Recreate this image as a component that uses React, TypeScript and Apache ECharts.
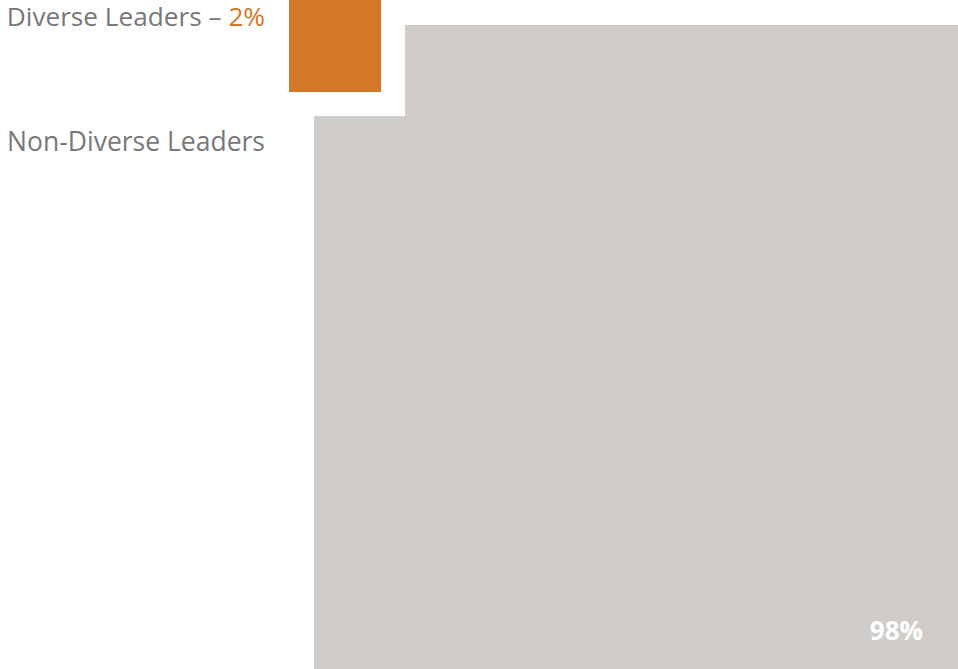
import React, { useEffect, useRef } from "react";
import * as echarts from "echarts";

const categories = ["Diverse Leaders", "Non-Diverse Leaders"];
const values = [2, 98];
const valueLabels = ["2%", "98%"];

const ORANGE = "#D27827";
const GRAY = "#D0CCC9";
const TEXT = "#787878";
const FONT = "'Open Sans', 'Noto Sans', sans-serif";

export default function App() {
  const ref = useRef<HTMLDivElement>(null);
  useEffect(() => {
    if (!ref.current) return;
    const chart = echarts.init(ref.current, null, { renderer: "svg" });
    const total = values[0] + values[1];
    const fullSide = Math.sqrt(total);
    const notch = Math.sqrt(values[0]);
    const option: any = {
      animation: false,
      grid: { left: 314, top: 25, right: 0, bottom: 0, containLabel: false },
      xAxis: { type: "value", min: 0, max: fullSide, show: false },
      yAxis: { type: "value", min: 0, max: fullSide, inverse: true, show: false },
      series: [
        {
          type: "custom",
          clip: false,
          data: values.map((v, i) => ({ value: [i, v], name: categories[i] })),
          renderItem: (params: any, api: any) => {
            const i = params.dataIndex;
            const p0 = api.coord([0, 0]);
            const pn = api.coord([notch, notch]);
            const pf = api.coord([fullSide, fullSide]);
            if (i === 0) {
              const off = 25;
              const x = p0[0] - off;
              const y = p0[1] - off;
              const w = pn[0] - p0[0] + 1;
              const h = pn[1] - p0[1] + 1;
              return {
                type: "group",
                children: [
                  { type: "rect", shape: { x, y, width: w, height: h }, style: { fill: ORANGE } },
                  {
                    type: "text",
                    x: x - 24,
                    y: y + 16,
                    style: {
                      text: `{a|${categories[0]} – }{b|${valueLabels[0]}}`,
                      align: "right",
                      verticalAlign: "middle",
                      rich: {
                        a: { fontFamily: FONT, fontSize: 26.2, lineHeight: 26, fill: TEXT, color: TEXT },
                        b: { fontFamily: FONT, fontSize: 26.2, lineHeight: 26, fill: ORANGE, color: ORANGE },
                      },
                    },
                  },
                ],
              };
            }
            return {
              type: "group",
              children: [
                {
                  type: "polygon",
                  shape: {
                    points: [
                      [pn[0], p0[1]],
                      [pf[0], p0[1]],
                      [pf[0], pf[1]],
                      [p0[0], pf[1]],
                      [p0[0], pn[1]],
                      [pn[0], pn[1]],
                    ],
                  },
                  style: { fill: GRAY },
                },
                {
                  type: "text",
                  x: p0[0] - 49,
                  y: pn[1] + 25,
                  style: {
                    text: categories[1],
                    align: "right",
                    verticalAlign: "middle",
                    fontFamily: FONT,
                    fontSize: 26.5,
                    fill: TEXT,
                  },
                },
                {
                  type: "text",
                  x: pf[0] - 35,
                  y: pf[1] - 39,
                  style: {
                    text: valueLabels[1],
                    align: "right",
                    verticalAlign: "middle",
                    fontFamily: FONT,
                    fontSize: 26,
                    fontWeight: "bold",
                    fill: "#FFFFFF",
                  },
                },
              ],
            };
          },
        },
      ],
    };
    chart.setOption(option);
    return () => chart.dispose();
  }, []);
  return (
    <div
      ref={ref}
      style={{ position: "fixed", left: 0, top: 0, width: 958, height: 669, background: "#fff" }}
    />
  );
}
